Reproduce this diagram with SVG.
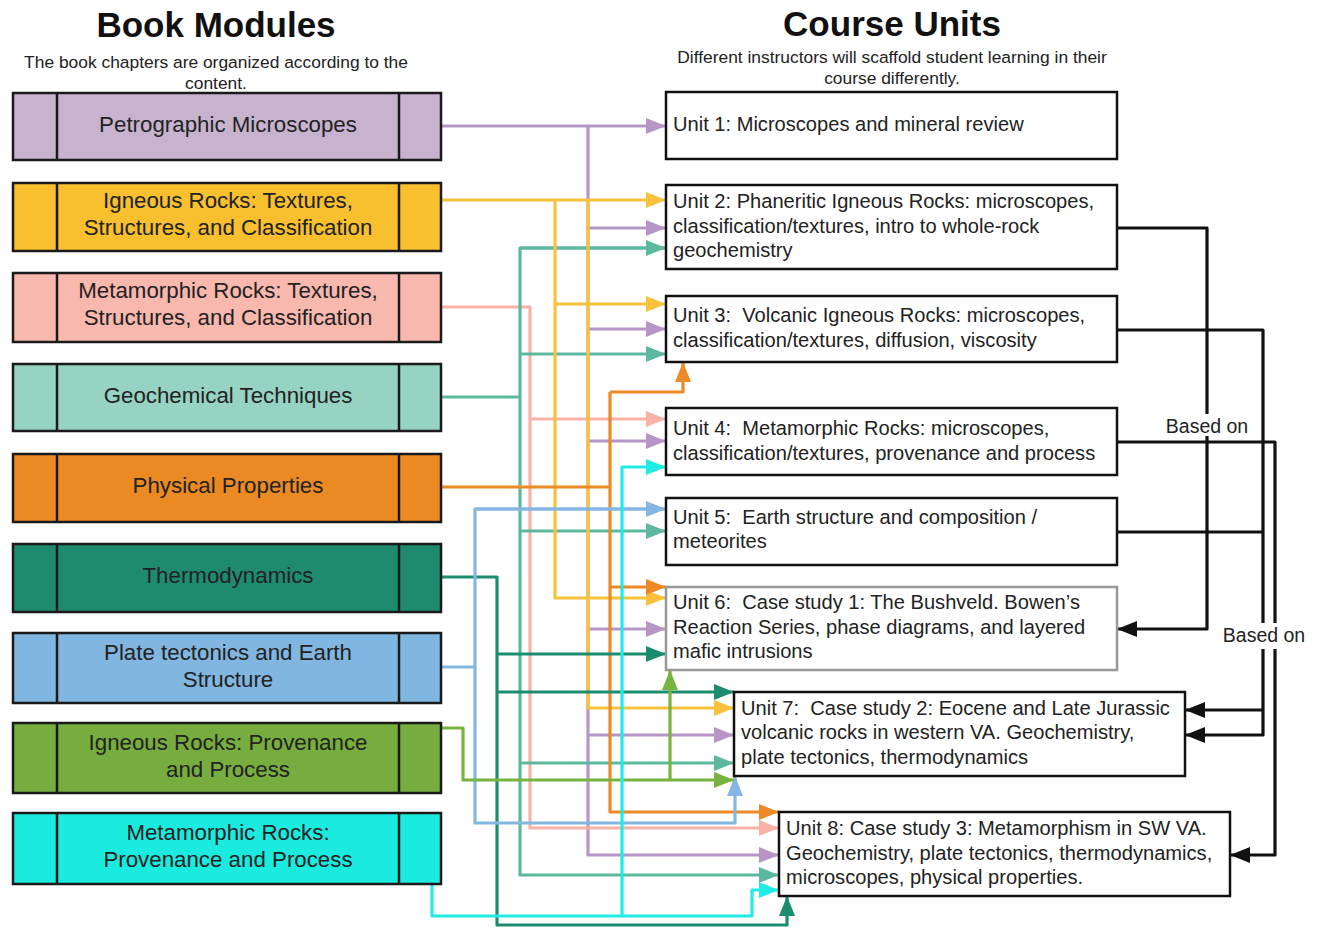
<svg xmlns="http://www.w3.org/2000/svg" width="1317" height="928" viewBox="0 0 1317 928">
<defs>
<style>
.t{font-family:"Liberation Sans",Arial,sans-serif;fill:#222;white-space:pre}
.title{font-size:35px;font-weight:bold;text-anchor:middle;fill:#111}
.sub{font-size:17.4px;text-anchor:middle}
.bt{font-size:22.3px;text-anchor:middle}
.ut{font-size:20.1px}
.lb{font-size:19.5px;text-anchor:middle}
.bx{stroke:#1a1a1a;stroke-width:2.5}
.ub{fill:#fff;stroke:#111;stroke-width:2.5}
.c{fill:none;stroke-width:3.2;stroke-linejoin:round}
</style>
<marker id="aL" viewBox="0 0 20 16" refX="20" refY="8" markerWidth="20" markerHeight="16" markerUnits="userSpaceOnUse" orient="auto"><path d="M0,0L20,8L0,16z" fill="#B596C6"/></marker>
<marker id="aY" viewBox="0 0 20 16" refX="20" refY="8" markerWidth="20" markerHeight="16" markerUnits="userSpaceOnUse" orient="auto"><path d="M0,0L20,8L0,16z" fill="#F9C23C"/></marker>
<marker id="aP" viewBox="0 0 20 16" refX="20" refY="8" markerWidth="20" markerHeight="16" markerUnits="userSpaceOnUse" orient="auto"><path d="M0,0L20,8L0,16z" fill="#F8B2A8"/></marker>
<marker id="aT" viewBox="0 0 20 16" refX="20" refY="8" markerWidth="20" markerHeight="16" markerUnits="userSpaceOnUse" orient="auto"><path d="M0,0L20,8L0,16z" fill="#5DB8A0"/></marker>
<marker id="aO" viewBox="0 0 20 16" refX="20" refY="8" markerWidth="20" markerHeight="16" markerUnits="userSpaceOnUse" orient="auto"><path d="M0,0L20,8L0,16z" fill="#EE8A25"/></marker>
<marker id="aD" viewBox="0 0 20 16" refX="20" refY="8" markerWidth="20" markerHeight="16" markerUnits="userSpaceOnUse" orient="auto"><path d="M0,0L20,8L0,16z" fill="#1C8C6E"/></marker>
<marker id="aB" viewBox="0 0 20 16" refX="20" refY="8" markerWidth="20" markerHeight="16" markerUnits="userSpaceOnUse" orient="auto"><path d="M0,0L20,8L0,16z" fill="#84B6E2"/></marker>
<marker id="aG" viewBox="0 0 20 16" refX="20" refY="8" markerWidth="20" markerHeight="16" markerUnits="userSpaceOnUse" orient="auto"><path d="M0,0L20,8L0,16z" fill="#77B33F"/></marker>
<marker id="aC" viewBox="0 0 20 16" refX="20" refY="8" markerWidth="20" markerHeight="16" markerUnits="userSpaceOnUse" orient="auto"><path d="M0,0L20,8L0,16z" fill="#1FEDE5"/></marker>
<marker id="aK" viewBox="0 0 20 16" refX="20" refY="8" markerWidth="20" markerHeight="16" markerUnits="userSpaceOnUse" orient="auto"><path d="M0,0L20,8L0,16z" fill="#111"/></marker>
</defs>
<rect width="1317" height="928" fill="#fff"/>

<g id="headers">
<text class="t title" x="216" y="37">Book Modules</text>
<text class="t sub" x="216" y="68">The book chapters are organized according to the</text>
<text class="t sub" x="216" y="89">content.</text>
<text class="t title" x="892" y="36">Course Units</text>
<text class="t sub" x="892" y="63">Different instructors will scaffold student learning in their</text>
<text class="t sub" x="892" y="84">course differently.</text>
</g>

<g id="connectors">
<g class="c" stroke="#B596C6">
<path d="M441,126H666" marker-end="url(#aL)"/>
<path d="M588,126V855H779" marker-end="url(#aL)"/>
<path d="M588,228H666" marker-end="url(#aL)"/>
<path d="M588,329H666" marker-end="url(#aL)"/>
<path d="M588,441H666" marker-end="url(#aL)"/>
<path d="M588,629H666" marker-end="url(#aL)"/>
<path d="M588,735H734" marker-end="url(#aL)"/>
</g>
<g class="c" stroke="#F8B2A8">
<path d="M441,307H530V828H779" marker-end="url(#aP)"/>
<path d="M530,419H666" marker-end="url(#aP)"/>
</g>
<g class="c" stroke="#5DB8A0">
<path d="M441,397H520"/>
<path d="M666,248H520V875H779" marker-end="url(#aT)"/>
<path d="M520,248H666" marker-end="url(#aT)"/>
<path d="M520,354H666" marker-end="url(#aT)"/>
<path d="M520,531H666" marker-end="url(#aT)"/>
<path d="M520,763H734" marker-end="url(#aT)"/>
</g>
<g class="c" stroke="#F9C23C">
<path d="M441,200H666" marker-end="url(#aY)"/>
<path d="M555,200V598H666" marker-end="url(#aY)"/>
<path d="M555,304H666" marker-end="url(#aY)"/>
<path d="M588,200V708H734" marker-end="url(#aY)"/>
</g>
<g class="c" stroke="#EE8A25">
<path d="M441,487H610"/>
<path d="M610,392V812H779" marker-end="url(#aO)"/>
<path d="M610,392H683V362" marker-end="url(#aO)"/>
<path d="M610,587H666" marker-end="url(#aO)"/>
</g>
<g class="c" stroke="#1C8C6E">
<path d="M441,577H497V925H787V896" marker-end="url(#aD)"/>
<path d="M497,654H666" marker-end="url(#aD)"/>
<path d="M497,692H734" marker-end="url(#aD)"/>
</g>
<g class="c" stroke="#84B6E2">
<path d="M441,667H475"/>
<path d="M666,509H475V823H735V776" marker-end="url(#aB)"/>
<path d="M475,509H666" marker-end="url(#aB)"/>
</g>
<g class="c" stroke="#77B33F">
<path d="M441,728H463V780H734" marker-end="url(#aG)"/>
<path d="M670,780V670" marker-end="url(#aG)"/>
</g>
<g class="c" stroke="#1FEDE5">
<path d="M432,883V916H752V890H779" marker-end="url(#aC)"/>
<path d="M622,916V467H666" marker-end="url(#aC)"/>
</g>
<g class="c" stroke="#111">
<path d="M1117,228H1207V629H1117" marker-end="url(#aK)"/>
<path d="M1117,330H1263V735H1185" marker-end="url(#aK)"/>
<path d="M1117,532H1263"/>
<path d="M1263,710H1185" marker-end="url(#aK)"/>
<path d="M1117,442H1275V855H1230" marker-end="url(#aK)"/>
</g>
<rect x="1161" y="414" width="92" height="22" fill="#fff"/>
<text class="t lb" x="1207" y="433">Based on</text>
<rect x="1218" y="623" width="92" height="26" fill="#fff"/>
<text class="t lb" x="1264" y="642">Based on</text>
</g>

<g id="m1"><rect class="bx" x="13" y="93" width="428" height="67" fill="#C8B3CF"/><path class="bx" d="M57,93V160M399,93V160"/><text class="t bt" x="228" y="132">Petrographic Microscopes</text></g>
<g id="m2"><rect class="bx" x="13" y="183" width="428" height="68" fill="#F8BF2E"/><path class="bx" d="M57,183V251M399,183V251"/><text class="t bt" x="228" y="208">Igneous Rocks: Textures,</text><text class="t bt" x="228" y="235">Structures, and Classification</text></g>
<g id="m3"><rect class="bx" x="13" y="273" width="428" height="69" fill="#F9B8AE"/><path class="bx" d="M57,273V342M399,273V342"/><text class="t bt" x="228" y="298">Metamorphic Rocks: Textures,</text><text class="t bt" x="228" y="325">Structures, and Classification</text></g>
<g id="m4"><rect class="bx" x="13" y="364" width="428" height="67" fill="#96D3C2"/><path class="bx" d="M57,364V431M399,364V431"/><text class="t bt" x="228" y="403">Geochemical Techniques</text></g>
<g id="m5"><rect class="bx" x="13" y="454" width="428" height="68" fill="#EB8A22"/><path class="bx" d="M57,454V522M399,454V522"/><text class="t bt" x="228" y="493">Physical Properties</text></g>
<g id="m6"><rect class="bx" x="13" y="544" width="428" height="68" fill="#1E8B6F"/><path class="bx" d="M57,544V612M399,544V612"/><text class="t bt" x="228" y="583">Thermodynamics</text></g>
<g id="m7"><rect class="bx" x="13" y="633" width="428" height="70" fill="#80B6E0"/><path class="bx" d="M57,633V703M399,633V703"/><text class="t bt" x="228" y="660">Plate tectonics and Earth</text><text class="t bt" x="228" y="687">Structure</text></g>
<g id="m8"><rect class="bx" x="13" y="723" width="428" height="70" fill="#76AD3E"/><path class="bx" d="M57,723V793M399,723V793"/><text class="t bt" x="228" y="750">Igneous Rocks: Provenance</text><text class="t bt" x="228" y="777">and Process</text></g>
<g id="m9"><rect class="bx" x="13" y="813" width="428" height="71" fill="#1BEBDE"/><path class="bx" d="M57,813V884M399,813V884"/><text class="t bt" x="228" y="840">Metamorphic Rocks:</text><text class="t bt" x="228" y="867">Provenance and Process</text></g>

<g id="u1"><rect class="ub" x="666" y="92" width="451" height="67"/><text class="t ut" x="673" y="131">Unit 1: Microscopes and mineral review</text></g>
<g id="u2"><rect class="ub" x="666" y="185" width="451" height="84"/><text class="t ut" x="673" y="208">Unit 2: Phaneritic Igneous Rocks: microscopes,</text><text class="t ut" x="673" y="233">classification/textures, intro to whole-rock</text><text class="t ut" x="673" y="257">geochemistry</text></g>
<g id="u3"><rect class="ub" x="666" y="296" width="451" height="66"/><text class="t ut" x="673" y="322">Unit 3:  Volcanic Igneous Rocks: microscopes,</text><text class="t ut" x="673" y="347">classification/textures, diffusion, viscosity</text></g>
<g id="u4"><rect class="ub" x="666" y="408" width="451" height="67"/><text class="t ut" x="673" y="435">Unit 4:  Metamorphic Rocks: microscopes,</text><text class="t ut" x="673" y="460">classification/textures, provenance and process</text></g>
<g id="u5"><rect class="ub" x="666" y="498" width="451" height="67"/><text class="t ut" x="673" y="524">Unit 5:  Earth structure and composition /</text><text class="t ut" x="673" y="548">meteorites</text></g>
<g id="u6"><rect class="ub" x="666" y="587" width="451" height="83" style="stroke:#999"/><text class="t ut" x="673" y="609">Unit 6:  Case study 1: The Bushveld. Bowen’s</text><text class="t ut" x="673" y="634">Reaction Series, phase diagrams, and layered</text><text class="t ut" x="673" y="658">mafic intrusions</text></g>
<g id="u7"><rect class="ub" x="734" y="692" width="451" height="84"/><text class="t ut" x="741" y="715">Unit 7:  Case study 2: Eocene and Late Jurassic</text><text class="t ut" x="741" y="739">volcanic rocks in western VA. Geochemistry,</text><text class="t ut" x="741" y="764">plate tectonics, thermodynamics</text></g>
<g id="u8"><rect class="ub" x="779" y="812" width="451" height="84"/><text class="t ut" x="786" y="835">Unit 8: Case study 3: Metamorphism in SW VA.</text><text class="t ut" x="786" y="860">Geochemistry, plate tectonics, thermodynamics,</text><text class="t ut" x="786" y="884">microscopes, physical properties.</text></g>
</svg>
